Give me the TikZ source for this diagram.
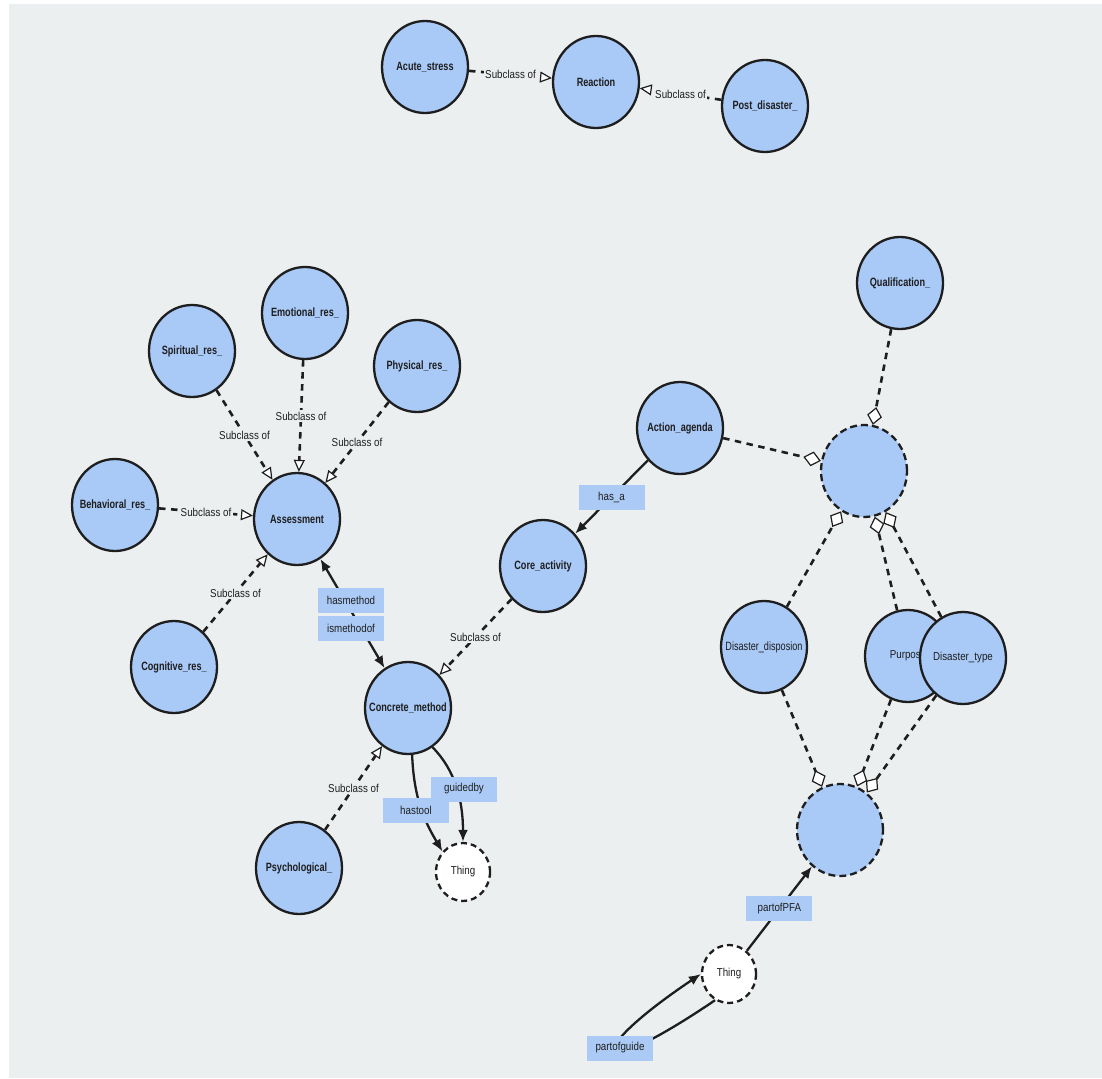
\documentclass[tikz,border=0pt]{standalone}
\usepackage{fontspec}
\setmainfont{Liberation Sans}
\newfontfamily\nodefnt{Liberation Sans}[FakeStretch=0.76]
\newfontfamily\lblfnt{Liberation Sans}[FakeStretch=0.85]
\usetikzlibrary{arrows.meta,shapes.geometric}
\definecolor{bgc}{HTML}{ECEFF0}
\definecolor{nodeblue}{HTML}{A9C9F7}
\definecolor{lblblue}{HTML}{ABCBF6}
\definecolor{ink}{HTML}{1E1E1E}
\newcommand{\nodetxt}[1]{\makebox[0pt]{#1}}
\begin{document}
\begin{tikzpicture}[x=1pt,y=-1pt,
  cls/.style={ellipse, draw=ink, line width=2.3pt, fill=nodeblue,
    minimum width=86pt, minimum height=92pt, inner sep=0pt, text=ink,
    font=\nodefnt\bfseries\fontsize{12pt}{14pt}\selectfont},
  clsreg/.style={cls, font=\nodefnt\fontsize{12pt}{14pt}\selectfont},
  clsreg2/.style={cls, font=\lblfnt\fontsize{11.5pt}{14pt}\selectfont},
  anoncls/.style={cls, dash pattern=on 7pt off 4pt},
  thingnode/.style={ellipse, draw=ink, line width=2.3pt, fill=white,
    dash pattern=on 6pt off 4pt, minimum width=54pt, minimum height=58pt,
    inner sep=0pt, text=ink, font=\lblfnt\fontsize{11.5pt}{14pt}\selectfont},
  sublbl/.style={fill=bgc, inner sep=1.5pt, text=ink,
    font=\lblfnt\fontsize{11.5pt}{14pt}\selectfont},
  propbox/.style={fill=lblblue, minimum width=66pt, minimum height=25pt,
    inner sep=0pt, text=ink, font=\lblfnt\fontsize{11.5pt}{14pt}\selectfont},
  subedge/.style={draw=ink, line width=2.6pt, dash pattern=on 6.5pt off 5.5pt,
    -{Triangle[length=12pt,width=11pt,fill=white,line width=1.2pt]}},
  diamedge/.style={draw=ink, line width=2.6pt, dash pattern=on 6.5pt off 5.5pt,
    -{Diamond[length=18pt,width=15pt,fill=white,line width=1.2pt]}},
  propedge/.style={draw=ink, line width=2.3pt, -{Latex[length=12pt,width=10pt]}}
]
\useasboundingbox (0,0) rectangle (1102,1078);
\fill[white] (0,0) rectangle (1102,1078);
\fill[bgc] (9,4) rectangle (1102,1078);

% class nodes
\node[cls] (acute) at (425,67) {\nodetxt{Acute\_stress}};
\node[cls] (reaction) at (596,82) {\nodetxt{Reaction}};
\node[cls] (post) at (765,106) {\nodetxt{Post\_disaster\_}};
\node[cls] (emo) at (305,313) {\nodetxt{Emotional\_res\_}};
\node[cls] (spi) at (192,351) {\nodetxt{Spiritual\_res\_}};
\node[cls] (phy) at (417,366) {\nodetxt{Physical\_res\_}};
\node[cls] (beh) at (115,505) {\nodetxt{Behavioral\_res\_}};
\node[cls] (ass) at (297,519) {\nodetxt{Assessment}};
\node[cls] (cog) at (174,667) {\nodetxt{Cognitive\_res\_}};
\node[cls] (cm) at (408,708) {\nodetxt{Concrete\_method}};
\node[cls] (psy) at (299,868) {\nodetxt{Psychological\_}};
\node[thingnode] (t1) at (463,872) {Thing};
\node[cls] (core) at (543,566) {\nodetxt{Core\_activity}};
\node[cls] (act) at (680,428) {\nodetxt{Action\_agenda}};
\node[anoncls] (anon1) at (864,471) {};
\node[cls] (qual) at (900,283) {\nodetxt{Qualification\_}};
\node[clsreg] (dd) at (764,647) {\nodetxt{Disaster\_disposion}};
\node[clsreg2] (pur) at (908,656) {\nodetxt{Purpose}};
\node[clsreg2] (dt) at (963,658) {\nodetxt{Disaster\_type}};
\node[anoncls] (anon2) at (840,830) {};
\node[thingnode] (t2) at (729,974) {Thing};

% subclass edges
\draw[subedge] (acute) -- node[sublbl]{Subclass of} (reaction);
\draw[subedge] (post) -- node[sublbl]{Subclass of} (reaction);
\draw[subedge] (spi) -- node[sublbl]{Subclass of} (ass);
\draw[subedge] (emo) -- node[sublbl]{Subclass of} (ass);
\draw[subedge] (phy) -- node[sublbl]{Subclass of} (ass);
\draw[subedge] (beh) -- node[sublbl]{Subclass of} (ass);
\draw[subedge] (cog) -- node[sublbl]{Subclass of} (ass);
\draw[subedge] (core) -- node[sublbl]{Subclass of} (cm);
\draw[subedge] (psy) -- node[sublbl]{Subclass of} (cm);

% diamond edges
\draw[diamedge] (qual) -- (anon1);
\draw[diamedge] (act) -- (anon1);
\draw[diamedge] (dd) -- (anon1);
\draw[diamedge] (pur) -- (anon1);
\draw[diamedge] (dt) -- (anon1);
\draw[diamedge] (dd) -- (anon2);
\draw[diamedge] (pur) -- (anon2);
\draw[diamedge] (dt) -- (anon2);

% property edges
\draw[propedge, {Latex[length=12pt,width=10pt]}-{Latex[length=12pt,width=10pt]}] (ass) -- (cm);
\draw[propedge] (act) -- node[propbox]{has\_a} (core);
\draw[propedge] (cm.-85) .. controls (414,800) and (425,822) .. (t1.135);
\draw[propedge] (cm.-58) .. controls (455,770) and (463,800) .. (t1.north);
\draw[propedge] (t2) -- node[propbox]{partofPFA} (anon2);
\draw[propedge] (t2.-118) .. controls (587,1087) and (583,1053) .. (t2.west);

% property labels
\node[propbox] (hasm) at (351,600) {hasmethod};
\node[propbox] (ismo) at (351,628) {ismethodof};
\node[propbox] (hast) at (416,810) {hastool};
\node[propbox] (guid) at (464,789) {guidedby};
\node[propbox] (pguide) at (620,1048) {partofguide};
\end{tikzpicture}
\end{document}
